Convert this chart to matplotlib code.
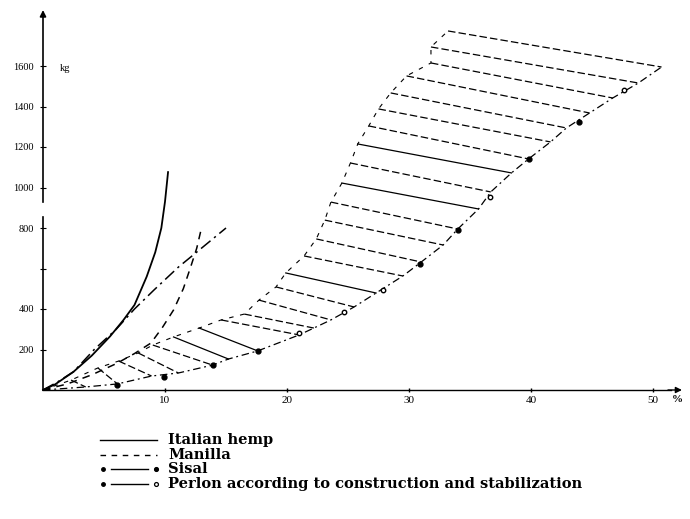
import matplotlib
matplotlib.use('Agg')
import matplotlib.pyplot as plt
from matplotlib.lines import Line2D

# elongation (%) vs load (kg)
hemp_x = [0, 1, 2.5, 4, 5.5, 6.6, 7.5, 8.5, 9.2, 9.7, 10.0, 10.25]
hemp_y = [0, 28, 90, 170, 265, 346, 420, 560, 680, 800, 930, 1076]

manilla_x = [0, 2, 4, 6, 7.5, 8.85, 9.8, 10.7, 11.5, 12.1, 12.6, 12.95]
manilla_y = [0, 30, 75, 130, 180, 232, 310, 395, 500, 607, 700, 790]

sisal_x = [0, 1.2, 2.5, 4.2, 6, 7.5, 9.1, 11.1, 12.5, 15]
sisal_y = [0, 40, 90, 200, 300, 400, 494, 607, 676, 800]

# Perlon band: hatch lines from upper-left edge to lower-right edge
perlon_left_x = [33.2, 31.8, 31.8, 29.8, 28.5, 27.5, 26.7, 25.8, 25.2, 24.5, 23.6, 23.1, 22.4,
                 21.4, 19.9, 19.1, 17.7, 16.5, 14.6, 12.8, 10.7, 9.0, 7.8, 6.2, 4.5, 2.3]
perlon_left_y = [1773, 1694, 1615, 1551, 1467, 1388, 1304, 1215, 1121, 1022, 928, 839, 746,
                 662, 578, 509, 444, 375, 346, 306, 262, 222, 183, 143, 109, 49]
perlon_right_x = [50.7, 48.8, 46.7, 44.8, 42.9, 41.6, 39.8, 38.4, 36.7, 35.7, 34.0, 32.8, 31.0,
                  29.5, 27.3, 25.5, 23.6, 22.2, 21.0, 17.6, 15.2, 13.9, 11.1, 8.9, 6.1, 3.5]
perlon_right_y = [1595, 1516, 1442, 1368, 1294, 1225, 1141, 1072, 978, 894, 795, 716, 632,
                  563, 479, 410, 346, 306, 272, 193, 153, 123, 84, 69, 30, 15]

perlon_dot_x = [6.1, 9.9, 13.9, 17.6, 21.0, 24.7, 27.9, 30.9, 34.0, 36.6, 39.8, 43.9, 47.6]
perlon_dot_y = [25, 64, 123, 193, 281, 385, 494, 622, 790, 953, 1141, 1323, 1481]
perlon_dot_open = [False, False, False, False, True, True, True, False, False, True, False, False, True]

x_ticks = [10, 20, 30, 40, 50]
y_ticks = [200, 400, 600, 800, 1000, 1200, 1400, 1600]
y_tick_labels = ['200', '400', '', '800', '1000', '1200', '1400', '1600']

legend_labels = ['Italian hemp', 'Manilla', 'Sisal',
                 'Perlon according to construction and stabilization']

plt.rcParams['font.family'] = ['Liberation Serif', 'DejaVu Serif']

fig = plt.figure(figsize=(6.9, 5.19), dpi=100)
W, H = 690, 519
ax = fig.add_axes([43 / W, (H - 390) / H, 53 * 12.2 / W, 1900 * 0.2025 / H])
ax.set_xlim(0, 53)
ax.set_ylim(0, 1900)
for s in ax.spines.values():
    s.set_visible(False)

# axes drawn by hand (the scan has a gap in the vertical axis)
ax.plot([0, 0], [0, 854], color='black', lw=1.2, clip_on=False)
ax.plot([0, 0], [928, 1860], color='black', lw=1.2, clip_on=False)
ax.annotate('', xy=(0, 1890), xytext=(0, 1840),
            arrowprops=dict(arrowstyle='-|>', color='black', lw=1.2,
                            mutation_scale=9), annotation_clip=False)
ax.plot([0, 51.5], [0, 0], color='black', lw=1.0, clip_on=False)
ax.annotate('', xy=(52.6, 0), xytext=(51, 0),
            arrowprops=dict(arrowstyle='-|>', color='black', lw=1.0,
                            mutation_scale=9), annotation_clip=False)

ax.set_xticks(x_ticks)
ax.set_xticklabels([str(v) for v in x_ticks], fontsize=8)
ax.set_yticks(y_ticks)
ax.set_yticklabels(y_tick_labels, fontsize=7.5)
ax.tick_params(axis='x', direction='inout', length=3, width=1, pad=3)
ax.tick_params(axis='y', direction='inout', length=5, width=0.8, pad=4)

ax.text(1.8, 1590, 'kg', fontsize=7.5, ha='center', va='center')
ax.text(52.0, -25, '%', fontsize=8, fontweight='bold', ha='center', va='top',
        clip_on=False)

# fibre curves
ax.plot(hemp_x, hemp_y, color='black', lw=1.3, clip_on=False)
ax.plot(manilla_x, manilla_y, color='black', lw=1.1, linestyle=(0, (5, 4)))
ax.plot(sisal_x, sisal_y, color='black', lw=1.1, linestyle=(0, (8, 3, 1.5, 3)))

# Perlon hatching
for i in range(len(perlon_left_x)):
    style = '-' if i in (7, 9, 14, 19, 20) else (0, (6, 2.5))
    ax.plot([perlon_left_x[i], perlon_right_x[i]], [perlon_left_y[i], perlon_right_y[i]],
            color='black', lw=0.9, linestyle=style)
ax.plot([0] + perlon_left_x[::-1], [0] + perlon_left_y[::-1],
        color='black', lw=0.8, linestyle=(0, (4, 6)))
ax.plot([0] + perlon_right_x[::-1], [0] + perlon_right_y[::-1],
        color='black', lw=0.9, linestyle=(0, (6, 3, 1.5, 3)))
for x, y, o in zip(perlon_dot_x, perlon_dot_y, perlon_dot_open):
    ax.plot(x, y, marker='o', ms=3.5 if not o else 3.2, color='black',
            mfc='white' if o else 'black', mew=1.0)

# legend drawn under the axes, like the printed key
rows = [440, 455, 469, 484]
styles = ['-', (0, (4, 4)), '-', '-']
for k, (py, lab) in enumerate(zip(rows, legend_labels)):
    yf = 1 - py / H
    if k < 2:
        fig.add_artist(Line2D([100 / W, 157 / W], [yf, yf], color='black',
                              lw=1.0, linestyle=styles[k]))
    else:
        fig.add_artist(Line2D([111 / W, 148 / W], [yf, yf], color='black', lw=1.0))
        fig.add_artist(Line2D([103 / W], [yf], marker='o', ms=2.5, color='black'))
        fig.add_artist(Line2D([156 / W], [yf], marker='o', ms=2.8, color='black',
                              mfc='white' if k == 3 else 'black', mew=0.9))
    fig.text(168 / W, yf, lab, fontsize=10.5, fontweight='bold',
             family=['DejaVu Serif'], va='center', ha='left')

fig.savefig('out.png', dpi=100)
